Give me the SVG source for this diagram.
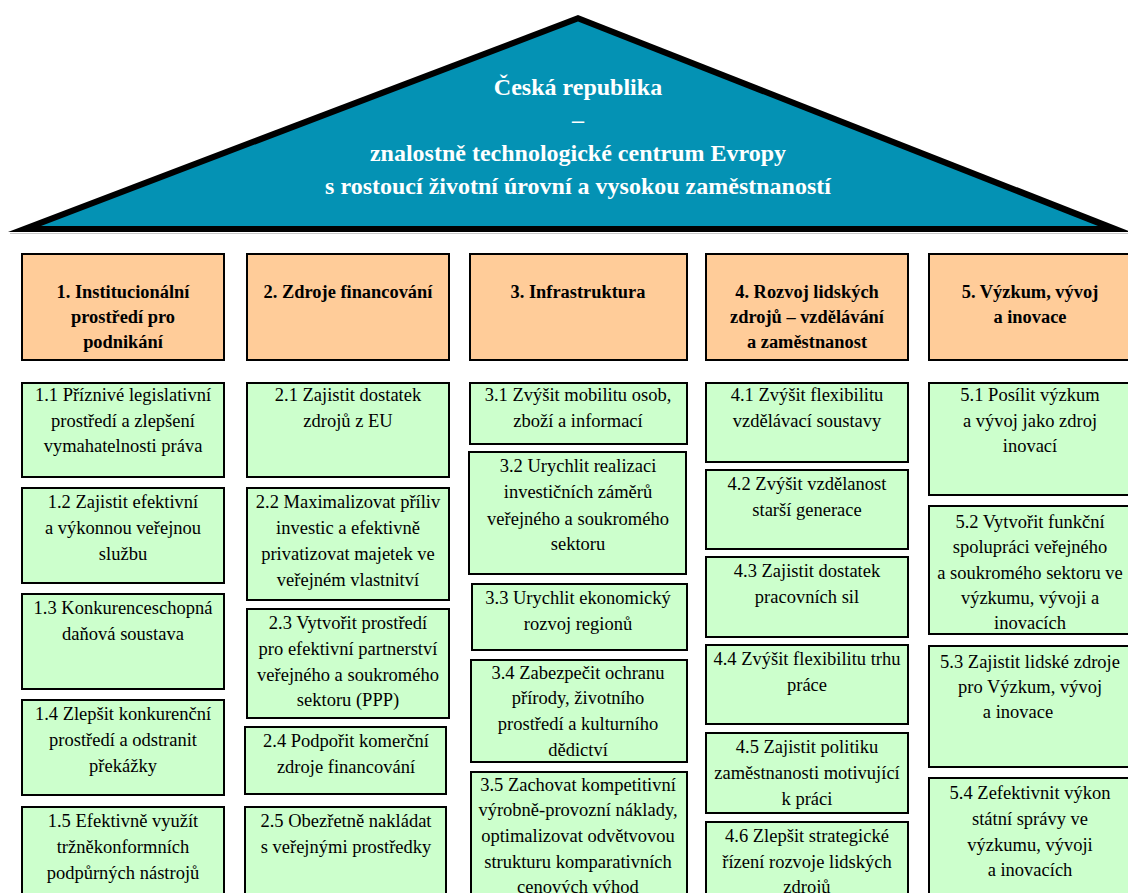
<svg xmlns="http://www.w3.org/2000/svg" width="1128" height="893" viewBox="0 0 1128 893">
<style>
text{font-family:"Liberation Serif","Times New Roman",serif;fill:#000;text-anchor:middle}
.t{font-size:24px;font-weight:bold;fill:#fff}
.h rect{fill:#FFCC99;stroke:#000;stroke-width:2}
.h text{font-size:18.4px;font-weight:bold}
.g rect{fill:#CCFFCC;stroke:#000;stroke-width:2}
.g text{font-size:18.5px}
</style>
<rect x="0" y="0" width="1128" height="893" fill="#fff"/>
<g id="roof">
<polygon points="8,232 578,15 1131,232" fill="#000"/>
<polygon points="41,226 578,21.5 1098,226" fill="#0492B4"/>
<line x1="10" y1="233.5" x2="1128" y2="233.5" stroke="#C8C8C8" stroke-width="1"/>
<text class="t"><tspan x="578" y="95">Česká republika</tspan><tspan x="578" y="128">–</tspan><tspan x="578" y="161">znalostně technologické centrum Evropy</tspan><tspan x="578" y="194">s rostoucí životní úrovní a vysokou zaměstnaností</tspan></text>
</g>
<g id="h1" class="h"><rect x="22" y="254" width="202" height="106"/><text><tspan x="123" y="298">1. Institucionální</tspan><tspan x="123" y="323">prostředí pro</tspan><tspan x="123" y="348">podnikání</tspan></text></g>
<g id="h2" class="h"><rect x="247" y="254" width="202" height="106"/><text><tspan x="348" y="298">2. Zdroje financování</tspan></text></g>
<g id="h3" class="h"><rect x="470" y="254" width="217" height="106"/><text><tspan x="578" y="298">3. Infrastruktura</tspan></text></g>
<g id="h4" class="h"><rect x="706" y="254" width="202" height="106"/><text><tspan x="807" y="298">4. Rozvoj lidských</tspan><tspan x="807" y="323">zdrojů – vzdělávání</tspan><tspan x="807" y="348">a zaměstnanost</tspan></text></g>
<g id="h5" class="h"><rect x="929" y="254" width="202" height="106"/><text><tspan x="1030" y="298">5. Výzkum, vývoj</tspan><tspan x="1030" y="323">a inovace</tspan></text></g>

<g id="n1_1" class="g"><rect x="22" y="383" width="202" height="94"/><text><tspan x="123" y="401">1.1 Příznivé legislativní</tspan><tspan x="123" y="427">prostředí a zlepšení</tspan><tspan x="123" y="452">vymahatelnosti práva</tspan></text></g>
<g id="n1_2" class="g"><rect x="22" y="488" width="202" height="95"/><text><tspan x="123" y="508">1.2 Zajistit efektivní</tspan><tspan x="123" y="534">a výkonnou veřejnou</tspan><tspan x="123" y="560">službu</tspan></text></g>
<g id="n1_3" class="g"><rect x="22" y="594" width="202" height="95"/><text><tspan x="123" y="614">1.3 Konkurenceschopná</tspan><tspan x="123" y="640">daňová soustava</tspan></text></g>
<g id="n1_4" class="g"><rect x="22" y="700" width="202" height="95"/><text><tspan x="123" y="720">1.4 Zlepšit konkurenční</tspan><tspan x="123" y="746">prostředí a odstranit</tspan><tspan x="123" y="772">překážky</tspan></text></g>
<g id="n1_5" class="g"><rect x="22" y="807" width="202" height="100"/><text><tspan x="123" y="827">1.5 Efektivně využít</tspan><tspan x="123" y="853">tržněkonformních</tspan><tspan x="123" y="879">podpůrných nástrojů</tspan></text></g>

<g id="n2_1" class="g"><rect x="247" y="383" width="202" height="94"/><text><tspan x="348" y="401">2.1 Zajistit dostatek</tspan><tspan x="348" y="427">zdrojů z EU</tspan></text></g>
<g id="n2_2" class="g"><rect x="247" y="488" width="202" height="112"/><text><tspan x="348" y="508">2.2 Maximalizovat příliv</tspan><tspan x="348" y="534">investic a efektivně</tspan><tspan x="348" y="560">privatizovat majetek ve</tspan><tspan x="348" y="586">veřejném vlastnitví</tspan></text></g>
<g id="n2_3" class="g"><rect x="247" y="609" width="202" height="109"/><text><tspan x="348" y="629">2.3 Vytvořit prostředí</tspan><tspan x="348" y="655">pro efektivní partnerství</tspan><tspan x="348" y="681">veřejného a soukromého</tspan><tspan x="348" y="706">sektoru (PPP)</tspan></text></g>
<g id="n2_4" class="g"><rect x="245" y="727" width="201" height="67"/><text><tspan x="346" y="747">2.4 Podpořit komerční</tspan><tspan x="346" y="773">zdroje financování</tspan></text></g>
<g id="n2_5" class="g"><rect x="245" y="807" width="201" height="100"/><text><tspan x="346" y="827">2.5 Obezřetně nakládat</tspan><tspan x="346" y="853">s veřejnými prostředky</tspan></text></g>

<g id="n3_1" class="g"><rect x="470" y="383" width="217" height="61"/><text><tspan x="578" y="401">3.1 Zvýšit mobilitu osob,</tspan><tspan x="578" y="427">zboží a informací</tspan></text></g>
<g id="n3_2" class="g"><rect x="469" y="452" width="217" height="122"/><text><tspan x="578" y="472">3.2 Urychlit realizaci</tspan><tspan x="578" y="498">investičních záměrů</tspan><tspan x="578" y="525">veřejného a soukromého</tspan><tspan x="578" y="550">sektoru</tspan></text></g>
<g id="n3_3" class="g"><rect x="472" y="584" width="215" height="66"/><text><tspan x="578" y="604">3.3 Urychlit ekonomický</tspan><tspan x="578" y="630">rozvoj regionů</tspan></text></g>
<g id="n3_4" class="g"><rect x="471" y="660" width="216" height="102"/><text><tspan x="578" y="679">3.4 Zabezpečit ochranu</tspan><tspan x="578" y="704">přírody, životního</tspan><tspan x="578" y="730">prostředí a kulturního</tspan><tspan x="578" y="756">dědictví</tspan></text></g>
<g id="n3_5" class="g"><rect x="471" y="772" width="216" height="135"/><text><tspan x="578" y="791">3.5 Zachovat kompetitivní</tspan><tspan x="578" y="816">výrobně-provozní náklady,</tspan><tspan x="578" y="842">optimalizovat odvětvovou</tspan><tspan x="578" y="868">strukturu komparativních</tspan><tspan x="578" y="893">cenových výhod</tspan></text></g>

<g id="n4_1" class="g"><rect x="706" y="383" width="202" height="79"/><text><tspan x="807" y="401">4.1 Zvýšit flexibilitu</tspan><tspan x="807" y="427">vzdělávací soustavy</tspan></text></g>
<g id="n4_2" class="g"><rect x="706" y="470" width="202" height="79"/><text><tspan x="807" y="490">4.2 Zvýšit vzdělanost</tspan><tspan x="807" y="516">starší generace</tspan></text></g>
<g id="n4_3" class="g"><rect x="706" y="557" width="202" height="80"/><text><tspan x="807" y="577">4.3 Zajistit dostatek</tspan><tspan x="807" y="603">pracovních sil</tspan></text></g>
<g id="n4_4" class="g"><rect x="706" y="645" width="202" height="79"/><text><tspan x="807" y="665">4.4 Zvýšit flexibilitu trhu</tspan><tspan x="807" y="691">práce</tspan></text></g>
<g id="n4_5" class="g"><rect x="706" y="733" width="202" height="80"/><text><tspan x="807" y="753">4.5 Zajistit politiku</tspan><tspan x="807" y="779">zaměstnanosti motivující</tspan><tspan x="807" y="805">k práci</tspan></text></g>
<g id="n4_6" class="g"><rect x="706" y="822" width="202" height="85"/><text><tspan x="807" y="842">4.6 Zlepšit strategické</tspan><tspan x="807" y="868">řízení rozvoje lidských</tspan><tspan x="807" y="893">zdrojů</tspan></text></g>

<g id="n5_1" class="g"><rect x="929" y="383" width="202" height="112"/><text><tspan x="1030" y="401">5.1 Posílit výzkum</tspan><tspan x="1030" y="427">a vývoj jako zdroj</tspan><tspan x="1030" y="452">inovací</tspan></text></g>
<g id="n5_2" class="g"><rect x="929" y="506" width="202" height="128"/><text><tspan x="1030" y="528">5.2 Vytvořit funkční</tspan><tspan x="1030" y="553">spolupráci veřejného</tspan><tspan x="1030" y="579">a soukromého sektoru ve</tspan><tspan x="1030" y="604">výzkumu, vývoji a</tspan><tspan x="1030" y="629">inovacích</tspan></text></g>
<g id="n5_3" class="g"><rect x="929" y="646" width="202" height="121"/><text><tspan x="1030" y="668">5.3 Zajistit lidské zdroje</tspan><tspan x="1030" y="693">pro Výzkum, vývoj</tspan><tspan x="1018" y="718">a inovace</tspan></text></g>
<g id="n5_4" class="g"><rect x="929" y="778" width="202" height="129"/><text><tspan x="1030" y="799">5.4 Zefektivnit výkon</tspan><tspan x="1030" y="825">státní správy ve</tspan><tspan x="1030" y="851">výzkumu, vývoji</tspan><tspan x="1030" y="876">a inovacích</tspan></text></g>
</svg>
